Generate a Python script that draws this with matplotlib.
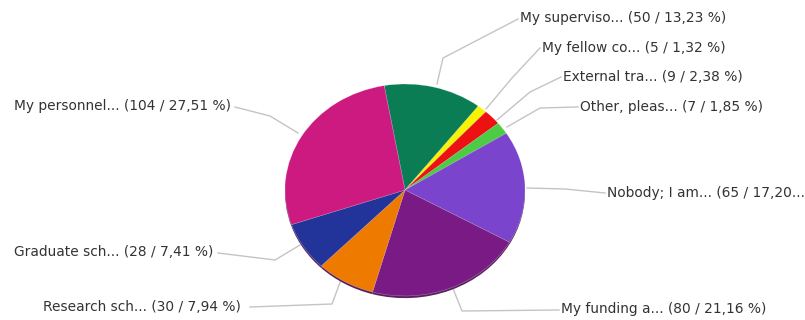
import matplotlib
matplotlib.use('Agg')
import matplotlib.pyplot as plt

# answers and counts, clockwise from the top
labels = ['My superviso...', 'My fellow co...', 'External tra...', 'Other, pleas...',
          'Nobody; I am...', 'My funding a...', 'Research sch...', 'Graduate sch...',
          'My personnel...']
counts = [50, 5, 9, 7, 65, 80, 30, 28, 104]
pcts = ['13,23 %)', '1,32 %)', '2,38 %)', '1,85 %)', '17,20...', '21,16 %)', '7,94 %)', '7,41 %)', '27,51 %)']
colors = ['#0a7d55', '#f5f500', '#ee1111', '#4ccc44', '#7a44cc',
          '#7a1a85', '#ee7a00', '#22339a', '#cc1a80']

# label positions (pixels, left edge) and leader lines
text_pos = [(520, 18), (542, 48), (563, 77), (580, 107), (607, 193),
            (561, 309), (43, 307), (14, 252), (14, 106)]
leaders = [
    [(437, 84), (443, 58), (518, 19)],
    [(486, 109), (512, 78), (540, 48)],
    [(497, 120), (530, 92), (561, 77)],
    [(507, 127), (540, 108), (578, 107)],
    [(527, 188), (565, 189), (605, 193)],
    [(452, 286), (462, 311), (559, 310)],
    [(342, 277), (332, 304), (250, 307)],
    [(300, 245), (275, 260), (218, 253)],
    [(298, 133), (270, 116), (235, 107)],
]

W, H = 805, 320
cx, cy, rx, ry = 405, 190, 120, 106


def px(x, y):
    return (x - cx) / rx, (cy - y) / ry


fig = plt.figure(figsize=(W / 100, H / 100), dpi=100)
ax = fig.add_axes([0, 0, 1, 1])

# thin darker rim underneath for the slight 3D look
ax.pie(counts, colors=['#5a2060'] * len(counts), startangle=100, counterclock=False,
       radius=1.0, center=(0, -0.02), wedgeprops=dict(linewidth=0))
ax.pie(counts, colors=colors, startangle=100, counterclock=False, radius=1.0,
       wedgeprops=dict(linewidth=0.3, edgecolor='#ffffff80'))

for pts, lab, n, p, pos in zip(leaders, labels, counts, pcts, text_pos):
    xs, ys = zip(*[px(x, y) for x, y in pts])
    ax.plot(xs, ys, color='#c4c4c4', lw=1.0, zorder=0)
    tx, ty = px(*pos)
    ax.text(tx, ty, f'{lab} ({n} / {p}', ha='left', va='center',
            fontsize=9.9, family='DejaVu Sans', color='#333333')

ax.set_xlim(px(0, 0)[0], px(W, 0)[0])
ax.set_ylim(px(0, H)[1], px(0, 0)[1])
ax.set_aspect('auto')
ax.axis('off')

fig.savefig('out.png', dpi=100, facecolor='white')
